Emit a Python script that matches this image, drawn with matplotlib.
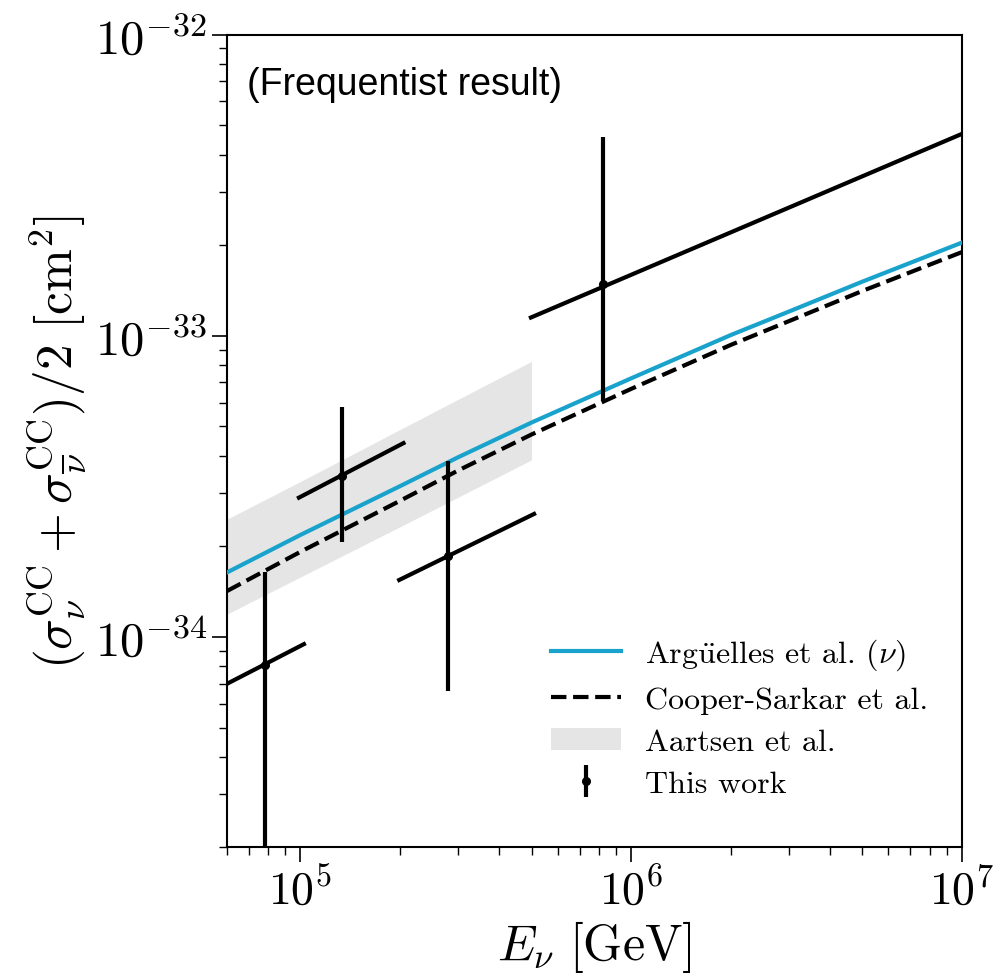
import numpy as np
import matplotlib
matplotlib.use('Agg')
import matplotlib.pyplot as plt
from matplotlib.ticker import FuncFormatter, LogLocator, NullFormatter, FixedLocator

plt.rcParams['mathtext.fontset'] = 'cm'

# energies [GeV] at which the model curves were read
energy = [6e4, 1e5, 2e5, 3e5, 5e5, 1e6, 2e6, 3e6, 5e6, 1e7]
arguelles = [1.637e-34, 2.18e-34, 3.165e-34, 3.95e-34, 5.15e-34, 7.22e-34,
             1.005e-33, 1.203e-33, 1.512e-33, 2.038e-33]
cooper_sarkar = [1.42e-34, 1.916e-34, 2.83e-34, 3.57e-34, 4.70e-34, 6.66e-34,
                 9.32e-34, 1.118e-33, 1.408e-33, 1.895e-33]

# Aartsen et al. band
band_e = [6e4, 1e5, 2e5, 3e5, 5e5]
band_hi = [2.46e-34, 3.28e-34, 4.88e-34, 6.15e-34, 8.22e-34]
band_lo = [1.19e-34, 1.58e-34, 2.32e-34, 2.91e-34, 3.87e-34]

# this work: points, vertical errors and bin segments
pt_e = [7.8e4, 1.34e5, 2.79e5, 8.22e5]
pt_xs = [8.05e-35, 3.43e-34, 1.86e-34, 1.485e-33]
pt_lo = [1e-36, 2.06e-34, 6.62e-35, 6.08e-34]
pt_hi = [1.645e-34, 5.78e-34, 3.85e-34, 4.56e-33]
bin_lo_e = [5.0e4, 9.9e4, 1.99e5, 4.98e5]
bin_hi_e = [1.025e5, 2.05e5, 5.09e5, 1e7]
bin_lo_xs = [6.3e-35, 2.90e-34, 1.545e-34, 1.15e-33]
bin_hi_xs = [9.46e-35, 4.40e-34, 2.56e-34, 4.68e-33]

x_major = [1e5, 1e6, 1e7]
y_major = [1e-34, 1e-33, 1e-32]

fig = plt.figure(figsize=(9.94, 9.78), dpi=100)
ax = fig.add_axes([0.2284, 0.1326, 0.7391, 0.8309])

ax.fill_between(band_e, band_lo, band_hi, color='#e5e5e5', lw=0,
                label='Aartsen et al.', zorder=1)
ax.plot(energy, arguelles, color='#19a3cc', lw=3,
        label=r'Arg$\mathrm{\ddot{u}}$elles et al. $(\nu)$', zorder=3)
ax.plot(energy, cooper_sarkar, color='k', lw=3, ls='--',
        label='Cooper-Sarkar et al.', zorder=3)

for i in range(len(pt_e)):
    ax.plot([bin_lo_e[i], bin_hi_e[i]], [bin_lo_xs[i], bin_hi_xs[i]],
            color='k', lw=3, zorder=4)
yerr = [np.array(pt_xs) - np.array(pt_lo), np.array(pt_hi) - np.array(pt_xs)]
ax.errorbar(pt_e, pt_xs, yerr=yerr, fmt='o', color='k', ms=5.5,
            elinewidth=3, capsize=0, label='This work', zorder=5)

ax.set_xscale('log')
ax.set_yscale('log')
ax.set_xlim(6e4, 1e7)
ax.set_ylim(2e-35, 1e-32)

fmt = FuncFormatter(lambda v, p: r'$10^{%d}$' % round(np.log10(v)))
for axis, major in ((ax.xaxis, x_major), (ax.yaxis, y_major)):
    axis.set_major_locator(FixedLocator(major))
    axis.set_major_formatter(fmt)
    axis.set_minor_locator(LogLocator(subs=np.arange(2, 10)))
    axis.set_minor_formatter(NullFormatter())
ax.tick_params(which='major', length=11, width=1.2, labelsize=35, direction='out')
ax.tick_params(axis='x', which='major', labelsize=33)
ax.tick_params(which='minor', length=6, width=1.0, direction='out')
for s in ax.spines.values():
    s.set_linewidth(1.5)

ax.set_xlabel(r'$E_\nu\ [\mathrm{GeV}]$', fontsize=36, labelpad=3)
ax.set_ylabel(r'$(\sigma_\nu^{\mathrm{CC}} + \sigma_{\overline{\nu}}^{\mathrm{CC}})/2\ [\mathrm{cm}^2]$',
              fontsize=37, labelpad=4)

ax.text(0.027, 0.962, '(Frequentist result)', transform=ax.transAxes,
        family='Liberation Sans', fontsize=27, va='top', ha='left')

h, l = ax.get_legend_handles_labels()
order = [1, 2, 0, 3]
ax.legend([h[i] for i in order], [l[i] for i in order], loc='lower left',
          bbox_to_anchor=(0.441, 0.061), frameon=False,
          prop={'family': 'cmr10', 'size': 23},
          handlelength=2.2, handletextpad=0.75, labelspacing=0.42,
          borderpad=0, borderaxespad=0)

fig.savefig('out.png', dpi=100)
